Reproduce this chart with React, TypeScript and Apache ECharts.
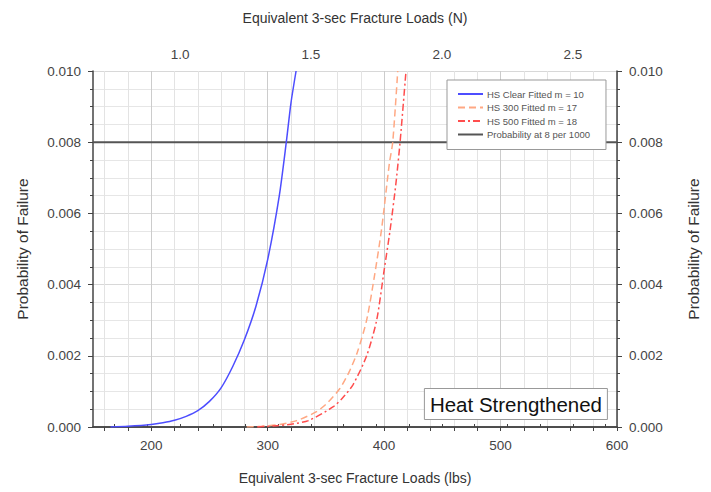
import React, { useEffect, useRef } from 'react';
import * as echarts from 'echarts';

// HS Clear fitted m = 10
const loadsClear = [165, 180, 200, 210, 220, 230, 240, 250, 260, 270, 280, 290, 300, 310, 316, 320, 324.4];
const probClear = [0, 0.00002, 0.00007, 0.00012, 0.00019, 0.0003, 0.00046, 0.00072, 0.0011, 0.0017, 0.00245, 0.0034, 0.0047, 0.0065, 0.008, 0.0091, 0.01];
// HS 300 fitted m = 17
const loads300 = [282, 295, 310, 325, 342, 352, 362, 370, 377, 385, 392, 398, 404.5, 407.4, 411.7];
const prob300 = [0, 0.00002, 0.00007, 0.00018, 0.00043, 0.0007, 0.00108, 0.00155, 0.0021, 0.003, 0.0043, 0.0056, 0.0074, 0.008, 0.01];
// HS 500 fitted m = 18
const loads500 = [291, 305, 320, 335, 356.4, 365, 373.5, 385, 393.6, 400, 405, 410, 413.7, 418.8];
const prob500 = [0, 0.00003, 0.00008, 0.00018, 0.00057, 0.00084, 0.0012, 0.002, 0.003, 0.0044, 0.0055, 0.0068, 0.008, 0.01];
// Probability at 8 per 1000
const refLoads = [150, 600];
const refProb = [0.008, 0.008];

const bottomTicks = [160, 180, 200, 220, 240, 260, 280, 300, 320, 340, 360, 380, 400, 420, 440, 460, 480, 500, 520, 540, 560, 580, 600];
const bottomLabels = [200, 300, 400, 500, 600];
const topTicks = [0.75, 0.875, 1.0, 1.125, 1.25, 1.375, 1.5, 1.625, 1.75, 1.875, 2.0, 2.125, 2.25, 2.375, 2.5, 2.625];
const topLabels = [1.0, 1.5, 2.0, 2.5];
const LBS_TO_KN = 0.0044482216;

const zip = (a: number[], b: number[]) => a.map((v, i) => [v, b[i]]);

export default function App() {
  const ref = useRef<HTMLDivElement>(null);
  useEffect(() => {
    if (!ref.current) return;
    const chart = echarts.init(ref.current, null, { renderer: 'svg' });
    const font = 'Liberation Sans, Arial, sans-serif';
    const axisColor = '#444';
    const lbl = { color: '#444', fontSize: 13.5, fontFamily: font };
    const nameStyle = { color: '#333', fontSize: 14, fontFamily: font };
    const yNameStyle = { color: '#333', fontSize: 15.5, fontFamily: font };
    chart.setOption({
      animation: false,
      backgroundColor: '#fff',
      textStyle: { fontFamily: font },
      grid: { left: 93, right: 94, top: 71, bottom: 65 },
      title: {
        text: 'Heat Strengthened',
        right: 103,
        top: 388,
        backgroundColor: '#fff',
        borderColor: '#999',
        borderWidth: 1,
        padding: [5, 6, 5, 6],
        textStyle: { fontSize: 20.5, lineHeight: 22, fontWeight: 'normal', color: '#111', fontFamily: font },
      },
      legend: {
        orient: 'vertical',
        left: 447,
        top: 80,
        backgroundColor: '#fff',
        borderColor: '#999',
        borderWidth: 1,
        padding: [9, 16, 10, 10],
        itemWidth: 25,
        itemHeight: 10,
        itemGap: 3.5,
        itemStyle: { color: 'transparent', borderWidth: 0, opacity: 0 },
        textStyle: { fontSize: 9.5, lineHeight: 10, color: '#555', fontFamily: font, padding: [0, 0, 0, -1] },
        data: ['HS Clear Fitted m = 10', 'HS 300 Fitted m = 17', 'HS 500 Fitted m = 18', 'Probability at 8 per 1000'],
      },
      xAxis: [
        {
          type: 'value',
          position: 'bottom',
          min: 150,
          max: 600,
          name: 'Equivalent 3-sec Fracture Loads (lbs)',
          nameLocation: 'middle',
          nameGap: 44,
          nameTextStyle: nameStyle,
          axisLine: { show: true, lineStyle: { color: axisColor, width: 1.5 } },
          axisTick: { show: true, customValues: bottomTicks, length: 4, lineStyle: { color: axisColor } },
          axisLabel: { customValues: bottomLabels, margin: 11, ...lbl },
          splitLine: {
            show: true,
            lineStyle: { color: ['#e3e3e3', '#e3e3e3', '#cccccc', '#e3e3e3', '#e3e3e3'], width: 1 },
          },
        },
        {
          type: 'value',
          position: 'top',
          min: 150 * LBS_TO_KN,
          max: 600 * LBS_TO_KN,
          name: 'Equivalent 3-sec Fracture Loads (N)',
          nameLocation: 'middle',
          nameGap: 46,
          nameTextStyle: nameStyle,
          axisLine: { show: true, lineStyle: { color: axisColor, width: 1.5 } },
          axisTick: { show: true, customValues: topTicks, length: 3, lineStyle: { color: axisColor } },
          axisLabel: { customValues: topLabels, margin: 10, formatter: (v: number) => v.toFixed(1), ...lbl },
          splitLine: { show: false },
        },
      ],
      yAxis: [
        {
          type: 'value',
          position: 'left',
          min: 0,
          max: 0.01,
          interval: 0.002,
          name: 'Probability of Failure',
          nameLocation: 'middle',
          nameRotate: 90,
          nameGap: 63,
          nameTextStyle: yNameStyle,
          axisLine: { show: true, lineStyle: { color: axisColor, width: 1.5 } },
          axisTick: { show: true, length: 5, lineStyle: { color: axisColor } },
          minorTick: { show: true, splitNumber: 4, length: 3, lineStyle: { color: axisColor } },
          axisLabel: { margin: 12, formatter: (v: number) => v.toFixed(3), ...lbl },
          splitLine: { show: true, lineStyle: { color: '#d8d8d8' } },
          minorSplitLine: { show: true, lineStyle: { color: '#e6e6e6' } },
        },
        {
          type: 'value',
          position: 'right',
          min: 0,
          max: 0.01,
          interval: 0.002,
          name: 'Probability of Failure',
          nameLocation: 'middle',
          nameRotate: 90,
          nameGap: 68,
          nameTextStyle: yNameStyle,
          axisLine: { show: true, lineStyle: { color: axisColor, width: 1.5 } },
          axisTick: { show: true, length: 5, lineStyle: { color: axisColor } },
          minorTick: { show: true, splitNumber: 4, length: 3, lineStyle: { color: axisColor } },
          axisLabel: { margin: 12, formatter: (v: number) => v.toFixed(3), ...lbl },
          splitLine: { show: false },
        },
      ],
      series: [
        {
          name: 'HS Clear Fitted m = 10',
          type: 'line',
          data: zip(loadsClear, probClear),
          showSymbol: false,
          symbol: 'none',
          smooth: 0.25,
          color: '#4d4dff',
          lineStyle: { color: '#4d4dff', width: 1.5 },
          z: 4,
        },
        {
          name: 'HS 300 Fitted m = 17',
          type: 'line',
          data: zip(loads300, prob300),
          showSymbol: false,
          symbol: 'none',
          smooth: 0.25,
          color: '#ffa883',
          lineStyle: { color: '#ffa883', width: 1.5, type: [7, 4] },
          z: 4,
        },
        {
          name: 'HS 500 Fitted m = 18',
          type: 'line',
          data: zip(loads500, prob500),
          showSymbol: false,
          symbol: 'none',
          smooth: 0.25,
          color: '#ff4d4d',
          lineStyle: { color: '#ff4d4d', width: 1.5, type: [7, 3, 2, 3] },
          z: 4,
        },
        {
          name: 'Probability at 8 per 1000',
          type: 'line',
          data: zip(refLoads, refProb),
          showSymbol: false,
          symbol: 'none',
          color: '#555',
          lineStyle: { color: '#555', width: 2 },
          z: 3,
        },
      ],
    });
    return () => chart.dispose();
  }, []);
  return <div ref={ref} style={{ width: 711, height: 492, position: 'absolute', left: 0, top: 0 }} />;
}
